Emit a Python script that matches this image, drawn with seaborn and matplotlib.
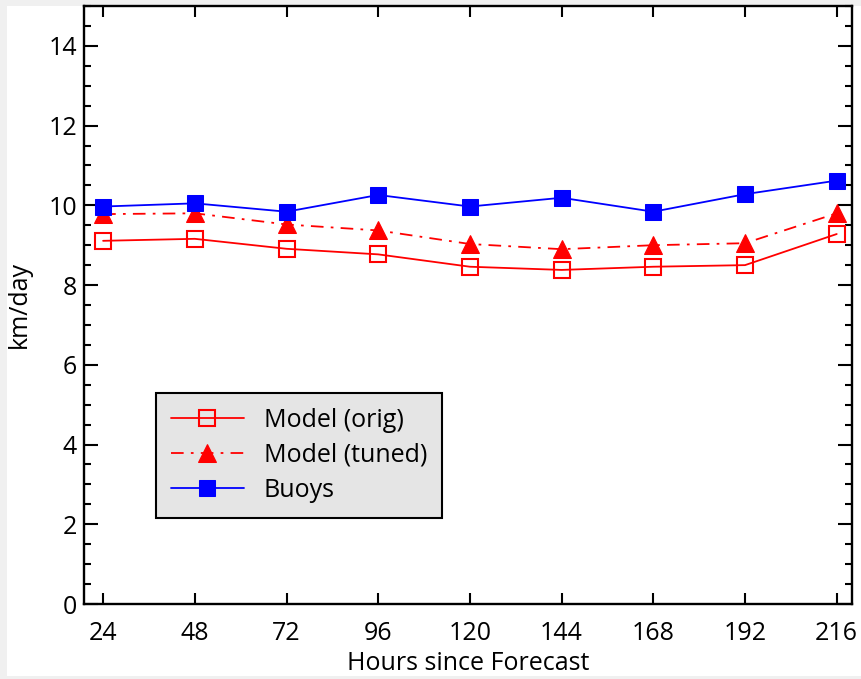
import matplotlib
matplotlib.use("Agg")
import matplotlib.pyplot as plt
import seaborn as sns
import pandas as pd
from matplotlib.patches import Rectangle
from matplotlib.ticker import MultipleLocator

# Valores
horas = [24, 48, 72, 96, 120, 144, 168, 192, 216]
modelo_orig = [9.11, 9.16, 8.91, 8.77, 8.46, 8.38, 8.46, 8.50, 9.28]
modelo_ajustado = [9.78, 9.80, 9.52, 9.37, 9.03, 8.90, 9.00, 9.05, 9.80]
boias = [9.97, 10.05, 9.84, 10.26, 9.97, 10.19, 9.84, 10.28, 10.62]

df = pd.DataFrame({
    "horas": horas,
    "Model (orig)": modelo_orig,
    "Model (tuned)": modelo_ajustado,
    "Buoys": boias,
})

sns.set_style("ticks")
plt.rcParams['font.family'] = ['Open Sans', 'DejaVu Sans']
plt.rcParams['text.color'] = 'black'
plt.rcParams['axes.labelcolor'] = 'black'
plt.rcParams['xtick.color'] = 'black'
plt.rcParams['ytick.color'] = 'black'

fig = plt.figure(figsize=(8.61, 6.79), dpi=100, facecolor="#f0f0f0")
fig.patches.append(Rectangle((7 / 861, 3 / 679), 1, 670 / 679, transform=fig.transFigure,
                             facecolor="white", edgecolor="none", zorder=-1))
ax = fig.add_axes([84 / 861, 75 / 679, 768 / 861, 598 / 679])
ax.set_facecolor("white")

sns.lineplot(data=df, x="horas", y="Model (orig)", ax=ax, color="red", lw=1.3,
             marker="s", markersize=12, markerfacecolor="none", markeredgecolor="red",
             markeredgewidth=1.5, label="Model (orig)")
sns.lineplot(data=df, x="horas", y="Model (tuned)", ax=ax, color="red", lw=1.3,
             linestyle=(0, (7, 4, 1.5, 4)), marker="^", markersize=13,
             markeredgecolor="red", label="Model (tuned)")
sns.lineplot(data=df, x="horas", y="Buoys", ax=ax, color="blue", lw=1.3,
             marker="s", markersize=12, markeredgecolor="blue", label="Buoys")

ax.set_xlim(19, 220)
ax.set_ylim(0, 15)
ax.set_xticks(horas)
ax.yaxis.set_major_locator(MultipleLocator(2))
ax.yaxis.set_minor_locator(MultipleLocator(0.5))
ax.tick_params(axis="y", which="major", length=10, width=1.5, direction="in",
               left=True, right=True, labelsize=18, pad=5)
ax.tick_params(axis="y", which="minor", length=5, width=1.5, direction="in",
               left=True, right=True)
ax.tick_params(axis="x", which="major", length=8, width=1.5, direction="in",
               bottom=True, top=True, labelsize=18, pad=12)
for s in ax.spines.values():
    s.set_visible(True)
    s.set_linewidth(1.7)
    s.set_color("black")

ax.set_xlabel("Hours since Forecast", fontsize=18, labelpad=4)
ax.set_ylabel("km/day", fontsize=18, labelpad=12)

leg = ax.legend(loc="upper left", bbox_to_anchor=(0.094, 0.353), fontsize=18,
                frameon=True, fancybox=False, edgecolor="black", facecolor="#e5e5e5",
                framealpha=1, handlelength=2.9, borderpad=0.6, labelspacing=0.4,
                handletextpad=0.8, borderaxespad=0)
leg.get_frame().set_linewidth(1.5)

plt.savefig("out.png", dpi=100, facecolor=fig.get_facecolor())
